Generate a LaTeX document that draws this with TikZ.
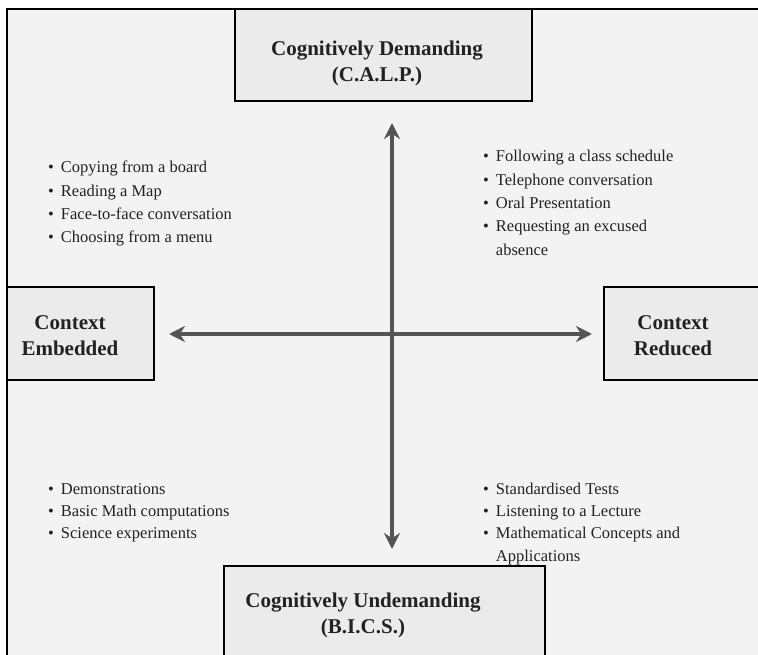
\documentclass[tikz,border=0pt]{standalone}
\usepackage{fontspec}
\setmainfont{Liberation Serif}
\usetikzlibrary{arrows.meta}
\definecolor{panelgray}{HTML}{F3F3F3}
\definecolor{boxgray}{HTML}{EBEBEB}
\definecolor{axisgray}{HTML}{555555}
\definecolor{inkgray}{HTML}{222222}
\newcommand{\bul}{\textbullet}

\begin{document}
\begin{tikzpicture}[x=1pt,y=-1pt,
    quadbox/.style={draw=black,line width=1.3pt,fill=boxgray,inner sep=0pt},
    title/.style={font=\fontsize{21}{26}\selectfont\bfseries,text=inkgray,align=center,inner sep=0pt,anchor=base},
    items/.style={font=\fontsize{16.5}{23.3}\selectfont,text=inkgray,inner sep=0pt,anchor=base west},
    lowitems/.style={items,font=\fontsize{16.5}{22.4}\selectfont},
    axis/.style={draw=axisgray,line width=4pt,{Stealth[length=16pt,width=16pt]}-{Stealth[length=16pt,width=16pt]}}]
\useasboundingbox (0,0) rectangle (758,655);
\fill[white] (0,0) rectangle (758,655);
\fill[panelgray] (7,9) rectangle (758,655);
\draw[line width=1.5pt] (7,655) -- (7,9) -- (758,9);

% the four quadrant labels (base = last line)
\node[quadbox,minimum width=297pt,minimum height=92pt] (demand) at (383.5,55) {};
\node[quadbox,minimum width=147pt,minimum height=93pt] (embedded) at (80.5,333.5) {};
\node[quadbox,minimum width=156pt,minimum height=93pt] (reduced) at (682,333.5) {};
\node[quadbox,minimum width=321pt,minimum height=94pt] (undemand) at (384.5,613) {};
\node[title] (demandT) at (377,82) {Cognitively Demanding\\(C.A.L.P.)};
\node[title] (embeddedT) at (70,355) {Context\\Embedded};
\node[title] (reducedT) at (673,355) {Context\\Reduced};
\node[title] (undemandT) at (363,633) {Cognitively Undemanding\\(B.I.C.S.)};

% axes
\coordinate (north) at (392,123);
\coordinate (south) at (392,549);
\coordinate (west) at (169,334);
\coordinate (east) at (592,334);
\draw[axis] (north) -- (south);
\draw[axis] (west) -- (east);

% tasks in each quadrant
\node[items] (topLeft) at (48,173) {\begin{tabular}[t]{@{}l@{\hspace{7pt}}l@{}}
  \bul & Copying from a board\\
  \bul & Reading a Map\\
  \bul & Face-to-face conversation\\
  \bul & Choosing from a menu
\end{tabular}};
\node[items] (topRight) at (483,162) {\begin{tabular}[t]{@{}l@{\hspace{7pt}}l@{}}
  \bul & Following a class schedule\\
  \bul & Telephone conversation\\
  \bul & Oral Presentation\\
  \bul & Requesting an excused\\
       & absence
\end{tabular}};
\node[lowitems] (bottomLeft) at (48,494) {\begin{tabular}[t]{@{}l@{\hspace{7pt}}l@{}}
  \bul & Demonstrations\\
  \bul & Basic Math computations\\
  \bul & Science experiments
\end{tabular}};
\node[lowitems] (bottomRight) at (483,494) {\begin{tabular}[t]{@{}l@{\hspace{7pt}}l@{}}
  \bul & Standardised Tests\\
  \bul & Listening to a Lecture\\
  \bul & Mathematical Concepts and\\
       & Applications
\end{tabular}};
\end{tikzpicture}
\end{document}
